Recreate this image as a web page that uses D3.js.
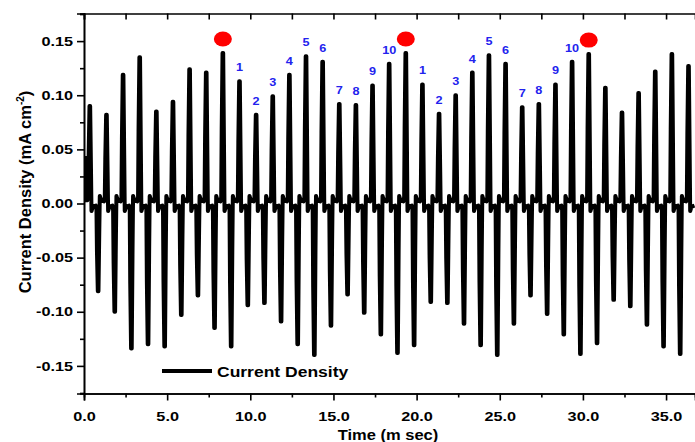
<!DOCTYPE html>
<html>
<head>
<meta charset="utf-8">
<script src="https://cdnjs.cloudflare.com/ajax/libs/d3/7.8.5/d3.min.js"></script>
<style>
body { margin: 0; background: #fff; }
text { font-family: "Liberation Sans", Arial, sans-serif; font-weight: bold; }
</style>
</head>
<body>
<script>
// positive spike maxima, one per cycle (mA cm-2)
var peaks = [0.090, 0.082, 0.119, 0.135, 0.085, 0.094, 0.124, 0.121, 0.139,
  0.113, 0.082, 0.099, 0.119, 0.136, 0.131, 0.092, 0.091, 0.109, 0.129, 0.139,
  0.110, 0.083, 0.100, 0.121, 0.137, 0.129, 0.089, 0.092, 0.110, 0.131, 0.138,
  0.107, 0.084, 0.102, 0.122, 0.138, 0.127];
// negative spike minima, half a cycle after each positive one
var troughs = [-0.081, -0.100, -0.134, -0.130, -0.132, -0.103, -0.085, -0.115, -0.132,
  -0.094, -0.092, -0.109, -0.130, -0.140, -0.113, -0.084, -0.101, -0.121, -0.138, -0.131, -0.091,
  -0.092, -0.111, -0.131, -0.140, -0.111, -0.085, -0.102, -0.121, -0.139, -0.129,
  -0.089, -0.095, -0.112, -0.132, -0.139];
var firstSpike = 0.35; // ms
var period = 1.0;      // ms
var redSpikes = [8, 19, 30];          // spikes marked with a red dot
var numberLabels = ["1","2","3","4","5","6","7","8","9","10"];
var xTicks = [0, 5, 10, 15, 20, 25, 30, 35];
var yTicks = [-0.15, -0.10, -0.05, 0.00, 0.05, 0.10, 0.15];

var width = 695, height = 442;
var sx = 1.25; // the picture's text is a bit wide

var x = d3.scaleLinear().domain([0, 36.74]).range([84, 695]);
var y = d3.scaleLinear().domain([-0.1755, 0.1755]).range([393.5, 13.5]);

var svg = d3.select("body").append("svg")
  .attr("width", width)
  .attr("height", height);

svg.append("clipPath").attr("id", "clip")
  .append("rect").attr("x", 84).attr("y", 13.5).attr("width", 611).attr("height", 380);

//build the trace from the spike list
var pts = [[0.05, 0.044], [0.09, 0.003], [0.2, 0.003]];
peaks.forEach(function(p, i) {
  var t = firstSpike + i * period;
  pts.push([t - 0.1, 0.006], [t - 0.07, 0.5 * p], [t - 0.02, p], [t + 0.02, p],
           [t + 0.07, 0.35 * p], [t + 0.1, -0.007], [t + 0.18, -0.003], [t + 0.36, -0.002]);
  if (i < troughs.length) {
    var n = t + period / 2, q = troughs[i];
    pts.push([n - 0.1, -0.006], [n - 0.07, 0.55 * q], [n - 0.02, q], [n + 0.02, q],
             [n + 0.07, 0.3 * q], [n + 0.1, 0.007], [n + 0.18, 0.003], [n + 0.36, 0.002]);
  }
});

var line = d3.line()
  .x(function(d) { return x(d[0]); })
  .y(function(d) { return y(d[1]); });

svg.append("path")
  .datum(pts)
  .attr("clip-path", "url(#clip)")
  .attr("d", line)
  .attr("fill", "none")
  .attr("stroke", "#000")
  .attr("stroke-width", 4)
  .attr("stroke-linejoin", "round");

// axes
var xMinor = d3.range(2.5, 36.74, 5);
var yMinor = [-0.175, -0.125, -0.075, -0.025, 0.025, 0.075, 0.125, 0.175].filter(function(v) { return Math.abs(v) < 0.1755; });

var bottom = svg.append("g")
  .attr("transform", "translate(0,393.5)")
  .call(d3.axisBottom(x).tickValues(xTicks).tickSize(7).tickPadding(11)
    .tickFormat(function(d) { return d.toFixed(1); }));
svg.append("g")
  .attr("transform", "translate(0,393.5)")
  .call(d3.axisBottom(x).tickValues(xMinor).tickSize(4).tickFormat(""));

svg.append("g")
  .attr("transform", "translate(0,13.5)")
  .call(d3.axisTop(x).tickValues(d3.range(0, 36.74, 2.5)).tickSize(-6).tickFormat(""));

var left = svg.append("g")
  .attr("transform", "translate(84,0)")
  .call(d3.axisLeft(y).tickValues(yTicks).tickSize(7).tickPadding(4)
    .tickFormat(function(d) { return d.toFixed(2); }));
svg.append("g")
  .attr("transform", "translate(84,0)")
  .call(d3.axisLeft(y).tickValues(yMinor).tickSize(4).tickFormat(""));

svg.selectAll(".domain").attr("stroke", "#000").attr("stroke-width", 1.6);
svg.selectAll(".tick line").attr("stroke", "#000").attr("stroke-width", 1.6);

bottom.selectAll("text")
  .attr("font-size", 13).attr("fill", "#000")
  .attr("transform", "scale(" + sx + ",1)");
left.selectAll("text")
  .attr("font-size", 13).attr("fill", "#000")
  .attr("x", -11 / sx)
  .attr("transform", "scale(" + sx + ",1)");

// axis titles
svg.append("text")
  .attr("transform", "translate(388,440) scale(1.1,1)")
  .attr("text-anchor", "middle")
  .attr("font-size", 15)
  .text("Time (m sec)");

var yt = svg.append("text")
  .attr("transform", "translate(31,192) rotate(-90)")
  .attr("text-anchor", "middle")
  .attr("font-size", 16.5);
yt.append("tspan").text("Current Density (mA cm");
yt.append("tspan").attr("font-size", 10).attr("dy", -7).text("-2");
yt.append("tspan").attr("dy", 7).text(")");

// red dots and cycle numbers
svg.selectAll(".dot")
  .data(redSpikes)
  .enter().append("ellipse")
  .attr("cx", function(i) { return x(firstSpike + i * period); })
  .attr("cy", function(i) { return y(peaks[i]) - 14; })
  .attr("rx", 9)
  .attr("ry", 7.5)
  .attr("fill", "#ff0000");

var nums = [];
[redSpikes[0], redSpikes[1]].forEach(function(r) {
  numberLabels.forEach(function(s, k) { nums.push({ i: r + 1 + k, s: s }); });
});
svg.selectAll(".num")
  .data(nums)
  .enter().append("text")
  .attr("transform", function(d) {
    return "translate(" + x(firstSpike + d.i * period) + "," + (y(peaks[d.i]) - 10) + ") scale(1.15,1)";
  })
  .attr("text-anchor", "middle")
  .attr("font-size", 11)
  .attr("fill", "#2222ee")
  .text(function(d) { return d.s; });

// legend
svg.append("line")
  .attr("x1", 162).attr("x2", 212).attr("y1", 371).attr("y2", 371)
  .attr("stroke", "#000").attr("stroke-width", 4);
svg.append("text")
  .attr("transform", "translate(217,377) scale(1.13,1)")
  .attr("font-size", 15.5)
  .text("Current Density");
</script>
</body>
</html>
